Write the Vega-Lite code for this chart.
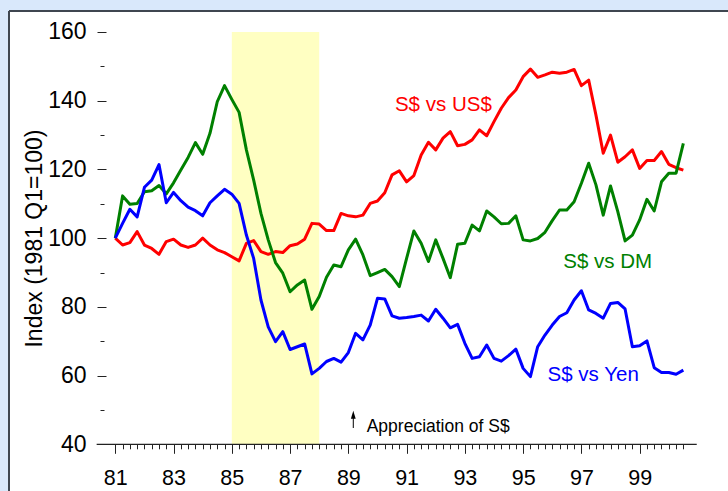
{
  "$schema": "https://vega.github.io/schema/vega-lite/v6.json",
  "width": 719,
  "height": 480,
  "autosize": "none",
  "padding": {"left": 9, "top": 11, "right": 0, "bottom": 0},
  "background": "#d9e8fb",
  "config": {
    "view": {"fill": "white", "stroke": null},
    "font": "Liberation Sans"
  },
  "datasets": {
    "fx": [
      {"t": 81.00, "usd": 100.0, "dm": 100.0, "yen": 100.0},
      {"t": 81.25, "usd": 98.0, "dm": 112.3, "yen": 104.3},
      {"t": 81.50, "usd": 98.7, "dm": 109.9, "yen": 108.4},
      {"t": 81.75, "usd": 101.9, "dm": 110.1, "yen": 106.2},
      {"t": 82.00, "usd": 98.0, "dm": 113.5, "yen": 114.8},
      {"t": 82.25, "usd": 97.0, "dm": 113.8, "yen": 116.9},
      {"t": 82.50, "usd": 95.3, "dm": 115.3, "yen": 121.4},
      {"t": 82.75, "usd": 99.0, "dm": 112.9, "yen": 110.3},
      {"t": 83.00, "usd": 99.7, "dm": 116.1, "yen": 113.3},
      {"t": 83.25, "usd": 98.0, "dm": 119.8, "yen": 110.9},
      {"t": 83.50, "usd": 97.3, "dm": 123.5, "yen": 109.0},
      {"t": 83.75, "usd": 98.0, "dm": 127.8, "yen": 108.0},
      {"t": 84.00, "usd": 100.0, "dm": 124.4, "yen": 106.5},
      {"t": 84.25, "usd": 98.0, "dm": 130.5, "yen": 110.3},
      {"t": 84.50, "usd": 96.6, "dm": 139.7, "yen": 112.3},
      {"t": 84.75, "usd": 95.8, "dm": 144.4, "yen": 114.2},
      {"t": 85.00, "usd": 94.6, "dm": 140.4, "yen": 112.8},
      {"t": 85.25, "usd": 93.4, "dm": 136.6, "yen": 110.1},
      {"t": 85.50, "usd": 98.5, "dm": 125.7, "yen": 100.9},
      {"t": 85.75, "usd": 99.3, "dm": 116.9, "yen": 94.1},
      {"t": 86.00, "usd": 96.1, "dm": 107.2, "yen": 82.0},
      {"t": 86.25, "usd": 95.3, "dm": 99.5, "yen": 74.2},
      {"t": 86.50, "usd": 96.1, "dm": 92.9, "yen": 69.9},
      {"t": 86.75, "usd": 95.8, "dm": 89.8, "yen": 72.8},
      {"t": 87.00, "usd": 97.8, "dm": 84.4, "yen": 67.6},
      {"t": 87.25, "usd": 98.3, "dm": 86.4, "yen": 68.4},
      {"t": 87.50, "usd": 99.7, "dm": 87.8, "yen": 69.2},
      {"t": 87.75, "usd": 104.3, "dm": 79.3, "yen": 60.5},
      {"t": 88.00, "usd": 104.1, "dm": 83.0, "yen": 62.1},
      {"t": 88.25, "usd": 102.2, "dm": 88.6, "yen": 64.1},
      {"t": 88.50, "usd": 102.2, "dm": 92.2, "yen": 65.0},
      {"t": 88.75, "usd": 107.2, "dm": 91.7, "yen": 63.9},
      {"t": 89.00, "usd": 106.5, "dm": 96.6, "yen": 66.7},
      {"t": 89.25, "usd": 106.2, "dm": 99.7, "yen": 72.3},
      {"t": 89.50, "usd": 106.7, "dm": 95.1, "yen": 70.4},
      {"t": 89.75, "usd": 110.1, "dm": 89.1, "yen": 74.7},
      {"t": 90.00, "usd": 110.8, "dm": 90.0, "yen": 82.5},
      {"t": 90.25, "usd": 113.2, "dm": 90.9, "yen": 82.3},
      {"t": 90.50, "usd": 118.4, "dm": 88.8, "yen": 77.4},
      {"t": 90.75, "usd": 119.6, "dm": 85.9, "yen": 76.7},
      {"t": 91.00, "usd": 116.4, "dm": 94.1, "yen": 76.9},
      {"t": 91.25, "usd": 118.2, "dm": 102.1, "yen": 77.2},
      {"t": 91.50, "usd": 124.2, "dm": 98.5, "yen": 77.6},
      {"t": 91.75, "usd": 127.9, "dm": 93.2, "yen": 75.9},
      {"t": 92.00, "usd": 125.7, "dm": 99.5, "yen": 79.3},
      {"t": 92.25, "usd": 129.1, "dm": 94.1, "yen": 76.7},
      {"t": 92.50, "usd": 131.0, "dm": 88.5, "yen": 73.9},
      {"t": 92.75, "usd": 126.9, "dm": 98.2, "yen": 74.9},
      {"t": 93.00, "usd": 127.3, "dm": 98.5, "yen": 69.4},
      {"t": 93.25, "usd": 128.6, "dm": 103.8, "yen": 65.0},
      {"t": 93.50, "usd": 131.5, "dm": 102.1, "yen": 65.5},
      {"t": 93.75, "usd": 129.8, "dm": 107.9, "yen": 68.9},
      {"t": 94.00, "usd": 133.9, "dm": 106.2, "yen": 65.0},
      {"t": 94.25, "usd": 137.8, "dm": 104.2, "yen": 64.2},
      {"t": 94.50, "usd": 140.9, "dm": 104.3, "yen": 65.8},
      {"t": 94.75, "usd": 143.1, "dm": 106.5, "yen": 67.7},
      {"t": 95.00, "usd": 147.0, "dm": 99.5, "yen": 62.1},
      {"t": 95.25, "usd": 149.2, "dm": 99.2, "yen": 59.7},
      {"t": 95.50, "usd": 146.8, "dm": 99.9, "yen": 68.4},
      {"t": 95.75, "usd": 147.5, "dm": 101.7, "yen": 71.8},
      {"t": 96.00, "usd": 148.3, "dm": 105.1, "yen": 74.7},
      {"t": 96.25, "usd": 148.0, "dm": 108.2, "yen": 77.2},
      {"t": 96.50, "usd": 148.3, "dm": 108.2, "yen": 78.3},
      {"t": 96.75, "usd": 149.1, "dm": 110.6, "yen": 82.0},
      {"t": 97.00, "usd": 144.4, "dm": 116.0, "yen": 84.7},
      {"t": 97.25, "usd": 146.0, "dm": 121.8, "yen": 79.1},
      {"t": 97.50, "usd": 135.8, "dm": 115.5, "yen": 78.1},
      {"t": 97.75, "usd": 124.7, "dm": 106.7, "yen": 76.7},
      {"t": 98.00, "usd": 130.0, "dm": 115.2, "yen": 81.0},
      {"t": 98.25, "usd": 122.1, "dm": 107.7, "yen": 81.3},
      {"t": 98.50, "usd": 123.7, "dm": 99.2, "yen": 79.4},
      {"t": 98.75, "usd": 125.7, "dm": 100.9, "yen": 68.4},
      {"t": 99.00, "usd": 120.3, "dm": 105.3, "yen": 68.7},
      {"t": 99.25, "usd": 122.6, "dm": 111.3, "yen": 70.1},
      {"t": 99.50, "usd": 122.6, "dm": 107.9, "yen": 62.3},
      {"t": 99.75, "usd": 125.2, "dm": 116.4, "yen": 60.9},
      {"t": 100.00, "usd": 121.5, "dm": 118.9, "yen": 60.9},
      {"t": 100.25, "usd": 120.5, "dm": 118.9, "yen": 60.4},
      {"t": 100.50, "usd": 119.8, "dm": 127.6, "yen": 61.6}
    ],
    "band": [{"from": 85, "to": 88, "lo": 40, "hi": 160}],
    "axisline": [{"from": 80.36, "to": 100.96, "y": 40}],
    "arrow": [{"t": 89.17, "lo": 44.75, "hi": 48.6}],
    "one": [{}]
  },
  "resolve": {"axis": {"x": "independent", "y": "independent"}},
  "layer": [
    {
      "data": {"name": "band"},
      "mark": {"type": "rect", "fill": "#ffffc2"},
      "encoding": {
        "x": {
          "field": "from", "type": "quantitative",
          "scale": {"domain": [77.351, 102.033], "nice": false, "zero": false},
          "axis": {
            "orient": "bottom", "offset": -46.7,
            "values": [81, 83, 85, 87, 89, 91, 93, 95, 97, 99],
            "format": "d", "domain": false, "grid": false,
            "tickSize": 9, "tickWidth": 1, "tickColor": "#222",
            "labelFontSize": 21.5, "labelColor": "black", "labelPadding": 14.5,
            "labelFont": "Liberation Sans", "title": null
          }
        },
        "x2": {"field": "to"},
        "y": {
          "field": "lo", "type": "quantitative",
          "scale": {"domain": [26.41, 166.11], "nice": false, "zero": false},
          "axis": {
            "orient": "left", "offset": -97,
            "values": [40, 60, 80, 100, 120, 140, 160],
            "format": "d", "domain": false, "grid": false,
            "tickSize": 9, "tickWidth": 1, "tickColor": "#222",
            "labelFontSize": 23, "labelColor": "black", "labelPadding": 11,
            "labelFont": "Liberation Sans",
            "title": "Index (1981 Q1=100)",
            "titleFont": "Liberation Sans", "titleFontSize": 23,
            "titleFontWeight": "normal", "titleColor": "black",
            "titleAngle": -90, "titleAlign": "center", "titleBaseline": "alphabetic",
            "titleX": -64.3, "titleY": 227
          }
        },
        "y2": {"field": "hi"}
      }
    },
    {
      "data": {"name": "fx"},
      "mark": {"type": "line", "color": "#ff0000", "strokeWidth": 3, "strokeJoin": "round"},
      "encoding": {
        "x": {
          "field": "t", "type": "quantitative",
          "scale": {"domain": [77.351, 102.033], "nice": false, "zero": false},
          "axis": {
            "orient": "bottom", "offset": -46.7,
            "values": [81, 81.25, 81.5, 81.75, 82, 82.25, 82.5, 82.75, 83, 83.25, 83.5, 83.75, 84, 84.25, 84.5, 84.75, 85, 85.25, 85.5, 85.75, 86, 86.25, 86.5, 86.75, 87, 87.25, 87.5, 87.75, 88, 88.25, 88.5, 88.75, 89, 89.25, 89.5, 89.75, 90, 90.25, 90.5, 90.75, 91, 91.25, 91.5, 91.75, 92, 92.25, 92.5, 92.75, 93, 93.25, 93.5, 93.75, 94, 94.25, 94.5, 94.75, 95, 95.25, 95.5, 95.75, 96, 96.25, 96.5, 96.75, 97, 97.25, 97.5, 97.75, 98, 98.25, 98.5, 98.75, 99, 99.25, 99.5, 99.75, 100, 100.25, 100.5],
            "labels": false, "domain": false, "grid": false,
            "tickSize": 4.5, "tickWidth": 1, "tickColor": "#222", "title": null
          }
        },
        "y": {
          "field": "usd", "type": "quantitative",
          "scale": {"domain": [26.41, 166.11], "nice": false, "zero": false},
          "axis": {
            "orient": "left", "offset": -95,
            "values": [50, 70, 90, 110, 130, 150],
            "labels": false, "domain": false, "grid": false,
            "tickSize": 4, "tickWidth": 1, "tickColor": "#222", "title": null
          }
        }
      }
    },
    {
      "data": {"name": "fx"},
      "mark": {"type": "line", "color": "#008000", "strokeWidth": 3, "strokeJoin": "round"},
      "encoding": {
        "x": {"field": "t", "type": "quantitative", "axis": null},
        "y": {"field": "dm", "type": "quantitative", "axis": null}
      }
    },
    {
      "data": {"name": "fx"},
      "mark": {"type": "line", "color": "#0000ff", "strokeWidth": 3, "strokeJoin": "round"},
      "encoding": {
        "x": {"field": "t", "type": "quantitative", "axis": null},
        "y": {"field": "yen", "type": "quantitative", "axis": null}
      }
    },
    {
      "data": {"name": "axisline"},
      "mark": {"type": "rule", "color": "#222", "strokeWidth": 1.3},
      "encoding": {
        "x": {"field": "from", "type": "quantitative", "axis": null},
        "x2": {"field": "to"},
        "y": {"field": "y", "type": "quantitative", "axis": null}
      }
    },
    {
      "data": {"name": "arrow"},
      "mark": {"type": "rule", "color": "black", "strokeWidth": 1},
      "encoding": {
        "x": {"field": "t", "type": "quantitative", "axis": null},
        "y": {"field": "lo", "type": "quantitative", "axis": null},
        "y2": {"field": "hi"}
      }
    },
    {
      "data": {"name": "arrow"},
      "mark": {"type": "point", "shape": "M-0.6,1L0,-1L0.6,1Z", "filled": true, "color": "black", "size": 64, "opacity": 1},
      "encoding": {
        "x": {"field": "t", "type": "quantitative", "axis": null},
        "y": {"field": "hi", "type": "quantitative", "axis": null}
      }
    },
    {
      "data": {"name": "one"},
      "mark": {"type": "text", "text": "Appreciation of S$", "align": "left", "baseline": "alphabetic", "fontSize": 17.5, "font": "Liberation Sans", "color": "black"},
      "encoding": {
        "x": {"datum": 89.63, "type": "quantitative", "axis": null},
        "y": {"datum": 43.7, "type": "quantitative", "axis": null}
      }
    },
    {
      "data": {"name": "one"},
      "mark": {"type": "text", "text": "S$ vs US$", "align": "left", "baseline": "alphabetic", "fontSize": 20.5, "font": "Liberation Sans", "color": "#ff0000"},
      "encoding": {
        "x": {"datum": 90.6, "type": "quantitative", "axis": null},
        "y": {"datum": 137.0, "type": "quantitative", "axis": null}
      }
    },
    {
      "data": {"name": "one"},
      "mark": {"type": "text", "text": "S$ vs DM", "align": "left", "baseline": "alphabetic", "fontSize": 20.5, "font": "Liberation Sans", "color": "#008000"},
      "encoding": {
        "x": {"datum": 96.38, "type": "quantitative", "axis": null},
        "y": {"datum": 91.4, "type": "quantitative", "axis": null}
      }
    },
    {
      "data": {"name": "one"},
      "mark": {"type": "text", "text": "S$ vs Yen", "align": "left", "baseline": "alphabetic", "fontSize": 20.5, "font": "Liberation Sans", "color": "#0000ff"},
      "encoding": {
        "x": {"datum": 95.84, "type": "quantitative", "axis": null},
        "y": {"datum": 58.4, "type": "quantitative", "axis": null}
      }
    },
    {
      "data": {"name": "one"},
      "mark": {"type": "rule", "color": "#3f4650", "strokeWidth": 2},
      "encoding": {
        "x": {"datum": 77.351, "type": "quantitative", "axis": null}
      }
    },
    {
      "data": {"name": "one"},
      "mark": {"type": "rule", "color": "#3f4650", "strokeWidth": 2},
      "encoding": {
        "y": {"datum": 166.11, "type": "quantitative", "axis": null}
      }
    }
  ]
}
